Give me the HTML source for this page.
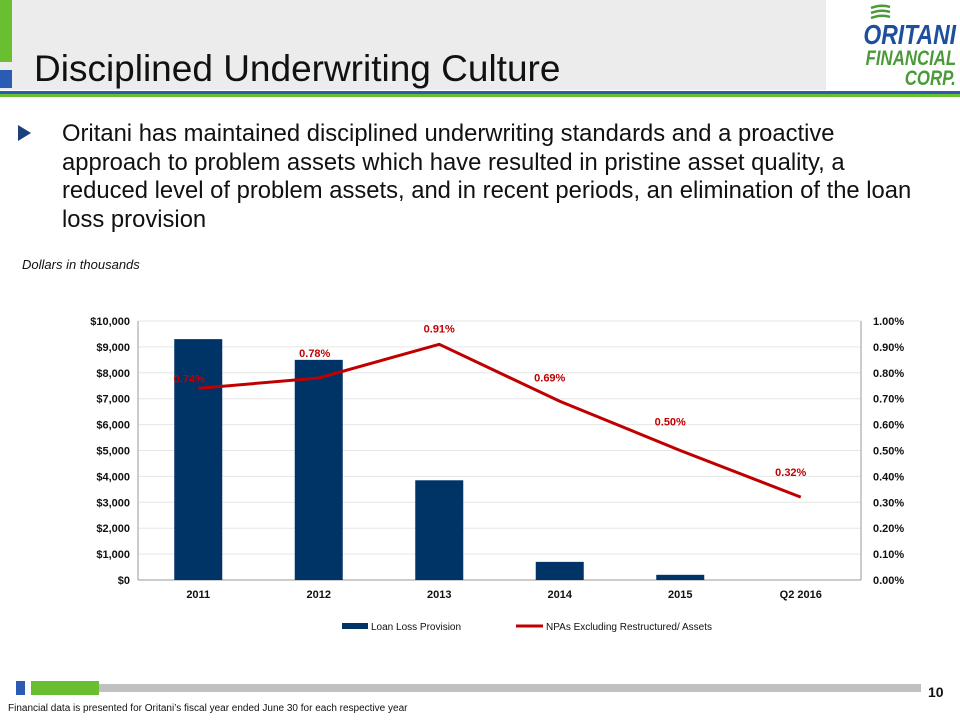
<!DOCTYPE html>
<html><head><meta charset="utf-8"><style>
body{margin:0;width:960px;height:720px;background:#fff;font-family:"Liberation Sans",sans-serif;position:relative;overflow:hidden}
.abs{position:absolute}
</style></head><body>
<div class="abs" style="left:0;top:0;width:826px;height:90px;background:#ececec"></div>
<div class="abs" style="left:0;top:0;width:12px;height:62px;background:#6abf30"></div>
<div class="abs" style="left:0;top:70px;width:12px;height:18px;background:#2a5bb5"></div>
<div class="abs" style="left:0;top:91px;width:960px;height:3px;background:#2a5bb5"></div>
<div class="abs" style="left:0;top:94px;width:960px;height:3px;background:#6abf30"></div>
<div class="abs" style="left:34px;top:48px;font-size:37px;color:#111">Disciplined Underwriting Culture</div>
<div class="abs" style="left:826px;top:0;width:134px;height:90px;background:#fff;font-weight:bold;line-height:1">
 <svg class="abs" style="left:44px;top:4px" width="22" height="16"><path d="M1 4 Q11 0 20 3 M1 9 Q11 5 20 8 M1 14 Q11 10 20 13" stroke="#4a9a3a" stroke-width="2.5" fill="none"/></svg>
 <div style="position:absolute;right:4px;top:21px;color:#1d4f9c;font-size:28px;transform:scaleX(0.82);transform-origin:right;font-style:italic">ORITANI</div>
 <div style="position:absolute;right:4px;top:48px;color:#4a9a3a;font-size:21px;transform:scaleX(0.8);transform-origin:right;font-style:italic">FINANCIAL</div>
 <div style="position:absolute;right:4px;top:68px;color:#4a9a3a;font-size:21px;transform:scaleX(0.8);transform-origin:right;font-style:italic">CORP.</div>
</div>
<div class="abs" style="left:18px;top:125px;width:0;height:0;border-left:13px solid #1d3f7a;border-top:8px solid transparent;border-bottom:8px solid transparent"></div>
<div class="abs" style="left:62px;top:120px;width:864px;font-size:23.8px;line-height:28.5px;color:#111">Oritani has maintained disciplined underwriting standards and a proactive approach to problem assets which have resulted in pristine asset quality, a reduced level of problem assets, and in recent periods, an elimination of the loan loss provision</div>
<div class="abs" style="left:22px;top:257px;font-size:13px;font-style:italic;color:#111">Dollars in thousands</div>
<svg class="abs" style="left:0;top:0" width="960" height="720" id="chart"></svg>
<div class="abs" style="left:16px;top:681px;width:9px;height:14px;background:#2a5bb5"></div>
<div class="abs" style="left:31px;top:681px;width:68px;height:14px;background:#6abf30"></div>
<div class="abs" style="left:99px;top:684px;width:822px;height:8px;background:#c0c0c0"></div>
<div class="abs" style="left:928px;top:684px;font-size:14px;font-weight:bold;color:#111">10</div>
<div class="abs" style="left:8px;top:703px;font-size:10px;color:#111">Financial data is presented for Oritani’s fiscal year ended June 30 for each respective year</div>
<script>
const categories=["2011","2012","2013","2014","2015","Q2 2016"];
const provision=[9300,8500,3850,700,200,0];
const npaPct=[0.74,0.78,0.91,0.69,0.50,0.32];
const leftTicks=[0,1000,2000,3000,4000,5000,6000,7000,8000,9000,10000];
const rightTicks=[0,0.1,0.2,0.3,0.4,0.5,0.6,0.7,0.8,0.9,1.0];
const svg=document.getElementById('chart');const NS='http://www.w3.org/2000/svg';
const X0=138,X1=861,Y0=580,Y1=321;
const band=(X1-X0)/categories.length;
const xc=i=>X0+band*(i+0.5);
const yL=v=>Y0-(v/10000)*(Y0-Y1);
const yR=v=>Y0-(v/1.0)*(Y0-Y1);
const labelDy=[-6,-21,-12,-20,-25,-21];
const labelDx=[-9,-4,0,-10,-10,-10];
function mk(t,a,txt){const e=document.createElementNS(NS,t);for(const k in a)e.setAttribute(k,a[k]);if(txt!==undefined)e.textContent=txt;svg.appendChild(e);return e;}
leftTicks.forEach(v=>{
 const g=mk('line',{x1:X0,x2:X1,y1:yL(v),y2:yL(v),stroke:v?'#e6e6e6':'#999','stroke-width':1});
 
 
 const t=mk('text',{x:X0-8,y:yL(v)+4,'text-anchor':'end','font-size':11,'font-weight':'bold',fill:'#111'},'$'+v.toLocaleString('en-US'));
 
 
});
rightTicks.forEach(v=>{
 const t=mk('text',{x:X1+12,y:yR(v)+4,'font-size':11,'font-weight':'bold',fill:'#111'},v.toFixed(2)+'%');
 
 
});
const la=mk('line',{x1:X0,x2:X0,y1:Y1,y2:Y0,stroke:'#999'});
const ra=mk('line',{x1:X1,x2:X1,y1:Y1,y2:Y0,stroke:'#999'});
categories.forEach((c,i)=>{
 const b=mk('rect',{x:xc(i)-24,y:yL(provision[i]),width:48,height:Y0-yL(provision[i]),fill:'#003366'});
 
 
 const t=mk('text',{x:xc(i),y:Y0+18,'text-anchor':'middle','font-size':11,'font-weight':'bold',fill:'#111'},c);
 
 
});
const pts=npaPct.map((v,i)=>xc(i)+','+yR(v)).join(' ');
const pl=mk('polyline',{points:pts,fill:'none',stroke:'#c00000','stroke-width':3});


npaPct.forEach((v,i)=>{
 const t=mk('text',{x:xc(i)+labelDx[i],y:yR(v)+labelDy[i],'text-anchor':'middle','font-size':11,'font-weight':'bold',fill:'#c00000'},v.toFixed(2)+'%');
 
 
});
const lb=mk('rect',{x:342,y:623,width:26,height:6,fill:'#003366'});
const lt=mk('text',{x:371,y:630,'font-size':10,fill:'#111'},'Loan Loss Provision');
const ll=mk('line',{x1:516,x2:543,y1:626,y2:626,stroke:'#c00000','stroke-width':3});
const lt2=mk('text',{x:546,y:630,'font-size':10,fill:'#111'},'NPAs Excluding Restructured/ Assets');
</script>
</body></html>
